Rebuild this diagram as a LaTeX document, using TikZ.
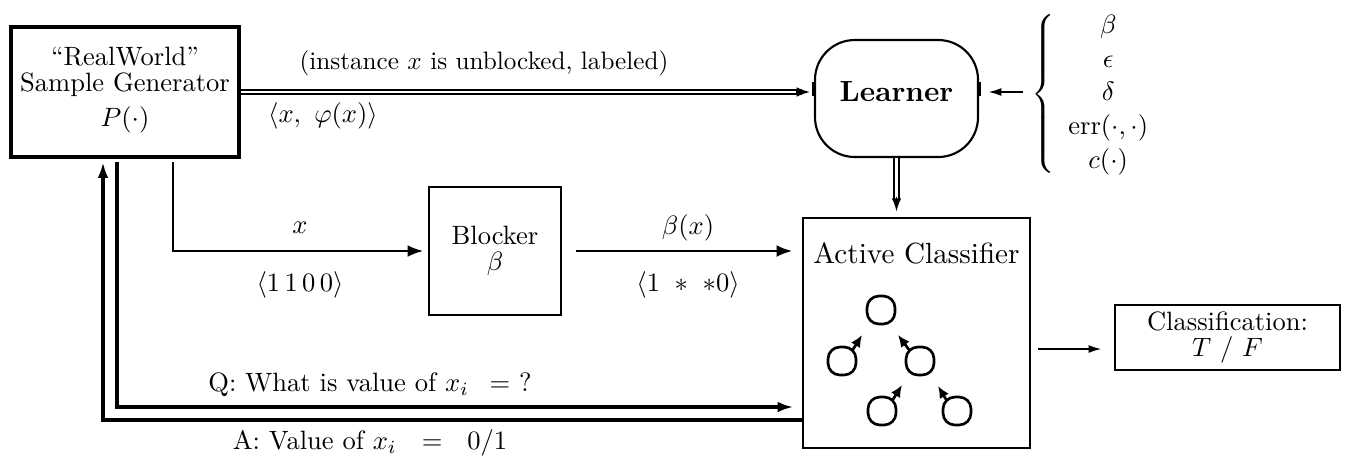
\documentclass[tikz,border=0pt]{standalone}
\usetikzlibrary{arrows.meta,calc}
\begin{document}
\begin{tikzpicture}[x=0.377pt,y=-0.377pt,
  box/.style={draw, line width=1.1pt, inner sep=0pt, align=center},
  arr/.style={line width=1.1pt, -{Latex[length=6pt,width=4.5pt]}},
  thk/.style={line width=1.5pt, -{Latex[length=6pt,width=4pt]}},
  dbl/.style={double, double distance=0.8pt, line width=0.75pt},
  dtip/.style={line width=0.6pt, -{Latex[length=5pt,width=3.6pt]}},
  thin arr/.style={line width=0.8pt, -{Latex[length=5pt,width=3pt]}},
  lbl/.style={inner sep=0pt},
  tnode/.style={draw, line width=1pt, rounded corners=4.5pt, minimum size=28*0.377pt, inner sep=0pt},
  tiparr/.style={line width=1pt, -{Latex[length=4.5pt,width=4pt]}}
]
\useasboundingbox (0,0) rectangle (1351,461);

% boxes
\node[box, line width=1.5pt, minimum width=228*0.377pt, minimum height=130*0.377pt] (gen) at (125,92) {};
\node[lbl, align=center] (gentxt) at (125,90) {``RealWorld''\\[-2pt]Sample Generator\\[1pt]$P(\cdot)$};

\node[draw, line width=0.8pt, rounded corners=15pt, minimum width=163*0.377pt, minimum height=117*0.377pt] (learner) at (896.5,98.5) {};
\node[lbl, font=\bfseries, scale=1.1] (learnertxt) at (896.5,92) {Learner};
\draw[line width=1.6pt] ($(learner.west)+(0,-17)$) -- ($(learner.west)+(0,-3)$);
\draw[line width=1.6pt] ($(learner.east)+(0,-17)$) -- ($(learner.east)+(0,-3)$);

\node[lbl] (params) at (1098,94) {$\renewcommand{\arraystretch}{1.06}\left\{\begin{array}{c}\beta\\ \epsilon\\ \delta\\ \mathrm{err}(\cdot,\cdot)\\ c(\cdot)\end{array}\right.$};

\node[box, minimum width=132*0.377pt, minimum height=128*0.377pt] (blocker) at (495,251) {Blocker\\[-2pt]$\beta$};

\node[box, minimum width=227*0.377pt, minimum height=230*0.377pt] (clf) at (916.5,333) {};
\node[lbl, scale=1.1] (clftxt) at (916.5,253) {Active Classifier};

\node[box, line width=0.9pt, minimum width=225*0.377pt, minimum height=65*0.377pt] (cls) at (1227.5,337.5) {Classification:\\[-2pt]$T\ /\ F$};

% tree
\node[tnode] (t1) at (881,310) {};
\node[tnode] (t2) at (842,361) {};
\node[tnode] (t3) at (920,361) {};
\node[tnode] (t4) at (882,411) {};
\node[tnode] (t5) at (957,411) {};
\coordinate (p2) at (862,335);
\coordinate (p3) at (898,335);
\coordinate (p4) at (902,385);
\coordinate (p5) at (938,386);
\draw[tiparr] ([xshift=-2pt,yshift=-2pt]t2.north east) -- (p2);
\draw[tiparr] ([xshift=2pt,yshift=-2pt]t3.north west) -- (p3);
\draw[tiparr] ([xshift=-2pt,yshift=-2pt]t4.north east) -- (p4);
\draw[tiparr] ([xshift=2pt,yshift=-2pt]t5.north west) -- (p5);

% generator -> learner (double)
\draw[dbl, shorten >=12*0.377pt] (gen.east) -- (gen.east -| learner.west);
\draw[dtip] ($(gen.east -| learner.west)+(-18,0)$) -- ($(gen.east -| learner.west)+(-4,0)$);
\node[lbl, scale=0.95] (l1) at (484,63) {(instance $x$ is unblocked, labeled)};
\node[lbl] (l2) at (323,116) {$\langle x,\ \varphi(x)\rangle$};

% params -> learner
\coordinate (pin) at (1023,92);
\draw[thin arr, shorten >=9*0.377pt] (pin) -- (pin -| learner.east);

% learner -> classifier (double)
\draw[dbl, shorten >=16*0.377pt] (learner.south) -- (learner.south |- clf.north);
\draw[dtip] ($(learner.south |- clf.north)+(0,-20)$) -- ($(learner.south |- clf.north)+(0,-5)$);

% generator -> blocker
\coordinate (xs) at (173,162);
\draw[arr, shorten >=4*0.377pt] (xs) |- (blocker.west);
\node[lbl] (lx) at (300,228) {$x$};
\node[lbl] (lxv) at (300,285) {$\langle 1\,1\,0\,0\rangle$};

% blocker -> classifier
\draw[arr, shorten <=14*0.377pt, shorten >=9*0.377pt] (blocker.east) -- (blocker.east -| clf.west);
\node[lbl] (lb) at (688,228) {$\beta(x)$};
\node[lbl] (lbv) at (688,285) {$\langle 1\ *\ *0\rangle$};

% Q and A
\coordinate (qs) at (117,162);
\coordinate (as) at (103,162);
\draw[thk, shorten >=8*0.377pt] (qs) |- ($(clf.west)+(0,74)$);
\draw[thk] ($(clf.west)+(0,87)$) -| (as);
\node[lbl] (lq) at (370,385) {Q: What is value of $x_i\ \,=$ ?};
\node[lbl] (la) at (370,443) {A: Value of $x_i\ \ =\ \ 0/1$};

% classifier -> classification
\coordinate (ce) at ($(clf.east)+(7,16)$);
\draw[thin arr, shorten >=12*0.377pt] (ce) -- (ce -| cls.west);
\end{tikzpicture}
\end{document}
